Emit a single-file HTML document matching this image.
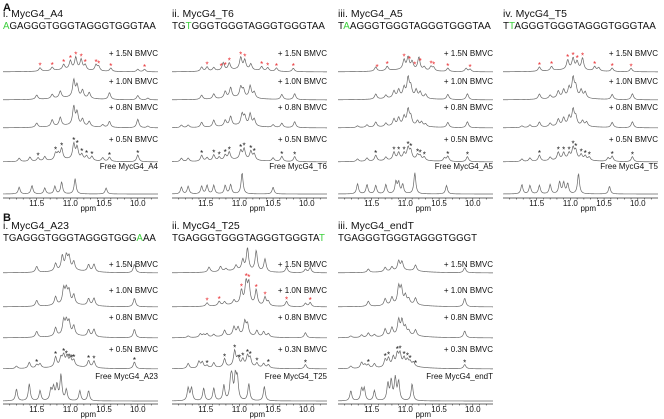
<!DOCTYPE html>
<html><head><meta charset="utf-8"><style>
html,body{margin:0;padding:0;background:#fff;}
svg{display:block;font-family:"Liberation Sans",Arial,sans-serif;}
</style></head><body>
<svg id="fig" width="664" height="419" viewBox="0 0 664 419"></svg>
<script>
// ---------- data: ppm axis ----------
const ppmMax = 12.0, ppmMin = 9.7;
const tickValues = [11.5, 11.0, 10.5, 10.0];
const tickLabels = ["11.5", "11.0", "10.5", "10.0"];

// ---------- panel A-i: MycG4_A4 ----------
const a1Free = [[11.76,8],[11.57,10],[11.38,7],[11.23,9],[11.13,14],[10.93,18],[10.47,7]];
const a1N05 = [[11.76,4],[11.6,5],[11.48,4],[11.38,5],[11.22,8],[11.18,7],[11.13,13],[10.95,18],[10.9,14],[10.83,6],[10.76,5],[10.68,5],[10.52,4],[10.42,5],[10.0,8]];
const a1N08 = [[11.5,5],[11.27,8],[11.15,10],[10.95,22],[10.9,15],[10.82,8],[10.72,6],[10.52,3],[10.42,7],[10.0,10],[9.85,2]];
const a1N10 = [[11.5,5],[11.27,5],[11.15,8],[10.95,20],[10.9,14],[10.82,9],[10.72,7],[10.42,8],[10.0,5],[9.85,2]];
const a1N15 = [[11.45,4],[11.27,4],[11.1,6],[11.0,10],[10.92,14],[10.84,12],[10.78,6],[10.62,7],[10.58,5],[10.4,4],[10.0,3],[9.9,3]];
const a1StarsBlack = [11.48,11.22,11.13,10.95,10.9,10.83,10.76,10.68,10.42,10.0];
const a1StarsRed = [11.45,11.27,11.1,11.0,10.92,10.84,10.78,10.62,10.58,10.4,9.9];

// ---------- panel A-ii: MycG4_T6 ----------
const a2Free = [[11.86,8],[11.76,9],[11.56,9],[11.48,10],[11.38,10],[11.21,10],[11.13,11],[10.96,25],[10.5,8]];
const a2N05 = [[11.86,4],[11.76,4],[11.56,7],[11.48,4],[11.38,7],[11.3,4],[11.21,6],[11.15,9],[10.98,10],[10.93,12],[10.83,10],[10.78,7],[10.5,4],[10.37,6],[10.18,6]];
const a2N08 = [[11.86,3],[11.76,3],[11.56,6],[11.38,8],[11.21,7],[11.13,11],[10.96,13],[10.92,10],[10.84,14],[10.78,8],[10.5,3],[10.37,5],[10.18,7]];
const a2N10 = [[11.56,5],[11.38,6],[11.21,8],[11.13,12],[10.98,12],[10.94,9],[10.84,14],[10.78,7],[10.37,6],[10.18,7]];
const a2N15 = [[11.56,5],[11.48,5],[11.38,4],[11.24,9],[11.15,8],[10.98,14],[10.92,11],[10.83,7],[10.67,5],[10.58,4],[10.45,4],[10.2,4]];
const a2StarsBlack = [11.56,11.38,11.3,11.21,11.15,10.98,10.93,10.83,10.78,10.37,10.18];
const a2StarsRed = [11.48,11.27,11.21,11.15,10.98,10.92,10.67,10.58,10.45,10.2];

// ---------- panel A-iii: MycG4_A5 ----------
const a3Free = [[11.71,12],[11.57,11],[11.44,10],[11.29,11],[11.14,14],[11.1,13],[11.04,11],[10.86,25],[10.39,10]];
const a3N05 = [[11.71,3],[11.57,4],[11.44,7],[11.29,4],[11.17,9],[11.1,8],[11.02,7],[10.96,13],[10.92,10],[10.82,6],[10.78,5],[10.72,4],[10.42,4],[10.37,6],[10.08,6]];
const a3N08 = [[11.71,2],[11.57,3],[11.44,6],[11.29,4],[11.17,8],[11.1,9],[11.02,10],[10.96,18],[10.92,10],[10.82,6],[10.76,5],[10.7,3],[10.37,6],[10.08,7]];
const a3N10 = [[11.44,6],[11.29,4],[11.17,8],[11.1,9],[11.02,11],[10.96,22],[10.92,12],[10.84,9],[10.78,7],[10.7,5],[10.37,6],[10.08,7]];
const a3N15 = [[11.44,5],[11.27,5],[11.02,11],[10.96,14],[10.9,9],[10.8,15],[10.72,4],[10.62,5],[10.58,4],[10.37,4],[10.1,4],[10.04,3]];
const a3StarsBlack = [11.44,11.17,11.1,11.02,10.96,10.92,10.82,10.78,10.72,10.37,10.08];
const a3StarsRed = [11.42,11.27,11.02,10.94,10.86,10.78,10.62,10.58,10.37,10.04];

// ---------- panel A-iv: MycG4_T5 ----------
const a4Free = [[11.72,11],[11.6,10],[11.46,10],[11.3,11],[11.16,14],[11.1,13],[11.04,12],[10.88,24],[10.42,9]];
const a4N05 = [[11.72,3],[11.6,4],[11.46,7],[11.3,4],[11.18,9],[11.1,8],[11.02,7],[10.96,13],[10.92,10],[10.84,6],[10.78,5],[10.72,4],[10.44,4],[10.38,6],[10.08,6]];
const a4N08 = [[11.72,2],[11.6,3],[11.46,6],[11.3,4],[11.18,8],[11.1,9],[11.02,10],[10.96,18],[10.92,10],[10.82,6],[10.76,5],[10.38,6],[10.08,7]];
const a4N10 = [[11.46,6],[11.3,4],[11.18,8],[11.1,9],[11.02,11],[10.96,22],[10.92,12],[10.84,9],[10.78,7],[10.38,6],[10.08,7]];
const a4N15 = [[11.46,5],[11.28,5],[11.04,11],[10.96,13],[10.9,9],[10.82,14],[10.64,5],[10.58,4],[10.38,4],[10.1,4]];
const a4StarsBlack = [11.46,11.18,11.1,11.02,10.96,10.92,10.84,10.78,10.72,10.38,10.08];
const a4StarsRed = [11.46,11.28,11.04,10.96,10.9,10.82,10.64,10.38,10.1];

// ---------- panel B-i: MycG4_A23 ----------
const b1Free = [[11.8,14],[11.61,20],[11.45,12],[11.29,13],[11.25,15],[11.2,18],[11.14,30],[11.06,13],[10.86,12],[10.73,12]];
const b1N05 = [[11.8,3],[11.61,7],[11.5,4],[11.45,5],[11.22,12],[11.14,10],[11.1,12],[11.05,11],[11.0,9],[10.95,7],[10.73,8],[10.65,8],[10.05,8]];
const b1N08 = [[11.5,7],[11.22,10],[11.1,17],[11.06,15],[11.02,15],[10.95,11],[10.73,8],[10.65,9],[10.05,10]];
const b1N10 = [[11.5,7],[11.22,10],[11.1,18],[11.06,16],[11.02,15],[10.95,11],[10.73,8],[10.65,9],[10.05,10]];
const b1N15 = [[11.5,7],[11.22,9],[11.12,17],[11.06,16],[11.02,15],[10.95,10],[10.73,8],[10.65,9],[10.05,10]];
const b1StarsBlack = [11.5,11.22,11.1,11.06,11.02,10.98,10.95,10.73,10.65,10.05];
const b1StarsRed = [];

// ---------- panel B-ii: MycG4_T25 ----------
const b2Free = [[11.76,15],[11.71,15],[11.53,15],[11.38,15],[11.23,18],[11.13,20],[11.11,22],[11.06,27],[11.03,25],[10.86,20],[10.63,17]];
const b2N03 = [[11.76,6],[11.6,8],[11.55,7],[11.48,3],[11.38,6],[11.22,10],[11.07,18],[11.02,10],[10.95,8],[10.88,12],[10.84,10],[10.74,5],[10.64,5],[10.57,4],[10.02,5]];
const b2N08 = [[11.76,2],[11.58,4],[11.53,3],[11.48,4],[11.38,3],[11.22,7],[11.08,10],[11.02,9],[10.92,16],[10.88,13],[10.74,7],[10.64,6],[10.57,4],[10.02,6]];
const b2N10 = [[11.48,4],[11.3,5],[11.22,4],[11.08,5],[10.97,16],[10.9,25],[10.86,24],[10.75,18],[10.62,10],[10.57,5],[10.3,6],[10.02,4],[9.95,5]];
const b2N15 = [[11.45,6],[11.28,6],[11.2,3],[11.05,6],[10.95,12],[10.88,26],[10.75,24],[10.62,15],[10.3,6],[10.02,4],[9.95,6]];
const b2StarsBlack = [11.48,11.22,11.07,11.0,10.95,10.88,10.84,10.74,10.57,10.02];
const b2StarsRed = [11.48,11.3,10.97,10.9,10.86,10.75,10.62,10.3,9.95];

// ---------- panel B-iii: MycG4_endT ----------
const b3Free = [[11.81,12],[11.65,14],[11.61,14],[11.46,12],[11.26,20],[11.21,23],[11.15,26],[11.1,22],[10.9,20]];
const b3N03 = [[11.81,3],[11.65,7],[11.6,4],[11.55,4],[11.46,5],[11.3,9],[11.25,10],[11.18,11],[11.12,14],[11.08,14],[11.02,9],[10.97,7],[10.93,5],[10.88,5],[10.12,5]];
const b3N08 = [[11.81,2],[11.65,3],[11.55,5],[11.46,3],[11.3,9],[11.2,10],[11.1,18],[11.05,17],[11.0,9],[10.95,5],[10.85,7],[10.12,8]];
const b3N10 = [[11.55,6],[11.3,8],[11.2,9],[11.1,20],[11.06,18],[11.0,10],[10.95,6],[10.85,8],[10.12,10]];
const b3N15 = [[11.55,4],[11.3,5],[11.2,5],[11.1,11],[11.05,10],[10.85,7],[10.12,6]];
const b3StarsBlack = [11.55,11.3,11.25,11.12,11.08,11.02,10.97,10.93,10.85,10.12];
const b3StarsRed = [];

// ---------- layout (not data) ----------
const rowA = {titleY:17, seqY:29, base:[72,100,128,162,194], labY:[56,84,110,142,169], axisY:198, tickY:206, ppmY:211};
const rowB = {titleY:229, seqY:241, base:[273,307,338,369,401], labY:[267,293,320,352,379], axisY:404, tickY:412, ppmY:417};
const panels = [
 {x:3,row:rowA,title:"i. MycG4_A4",seq:["","A","GAGGGTGGGTAGGGTGGGTAA"],labels:["+ 1.5N BMVC","+ 1.0N BMVC","+ 0.8N BMVC","+ 0.5N BMVC","Free MycG4_A4"],traces:[a1N15,a1N10,a1N08,a1N05,a1Free],starsRed:a1StarsRed,starsBlack:a1StarsBlack,redIdx:0,blackIdx:3},
 {x:172,row:rowA,title:"ii. MycG4_T6",seq:["TG","T","GGGTGGGTAGGGTGGGTAA"],labels:["+ 1.5N BMVC","+ 1.0N BMVC","+ 0.8N BMVC","+ 0.5N BMVC","Free MycG4_T6"],traces:[a2N15,a2N10,a2N08,a2N05,a2Free],starsRed:a2StarsRed,starsBlack:a2StarsBlack,redIdx:0,blackIdx:3},
 {x:338,row:rowA,title:"iii. MycG4_A5",seq:["T","A","AGGGTGGGTAGGGTGGGTAA"],labels:["+ 1.5N BMVC","+ 1.0N BMVC","+ 0.8N BMVC","+ 0.5N BMVC","Free MycG4_A5"],traces:[a3N15,a3N10,a3N08,a3N05,a3Free],starsRed:a3StarsRed,starsBlack:a3StarsBlack,redIdx:0,blackIdx:3},
 {x:503,row:rowA,title:"iv. MycG4_T5",seq:["T","T","AGGGTGGGTAGGGTGGGTAA"],labels:["+ 1.5N BMVC","+ 1.0N BMVC","+ 0.8N BMVC","+ 0.5N BMVC","Free MycG4_T5"],traces:[a4N15,a4N10,a4N08,a4N05,a4Free],starsRed:a4StarsRed,starsBlack:a4StarsBlack,redIdx:0,blackIdx:3},
 {x:3,row:rowB,title:"i. MycG4_A23",seq:["TGAGGGTGGGTAGGGTGGG","A","AA"],labels:["+ 1.5N BMVC","+ 1.0N BMVC","+ 0.8N BMVC","+ 0.5N BMVC","Free MycG4_A23"],traces:[b1N15,b1N10,b1N08,b1N05,b1Free],starsRed:b1StarsRed,starsBlack:b1StarsBlack,redIdx:0,blackIdx:3},
 {x:172,row:rowB,title:"ii. MycG4_T25",seq:["TGAGGGTGGGTAGGGTGGGTA","T",""],labels:["+ 1.5N BMVC","+ 1.0N BMVC","+ 0.8N BMVC","+ 0.3N BMVC","Free MycG4_T25"],traces:[b2N15,b2N10,b2N08,b2N03,b2Free],starsRed:b2StarsRed,starsBlack:b2StarsBlack,redIdx:1,blackIdx:3},
 {x:338,row:rowB,title:"iii. MycG4_endT",seq:["TGAGGGTGGGTAGGGTGGGT","",""],labels:["+ 1.5N BMVC","+ 1.0N BMVC","+ 0.8N BMVC","+ 0.3N BMVC","Free MycG4_endT"],traces:[b3N15,b3N10,b3N08,b3N03,b3Free],starsRed:b3StarsRed,starsBlack:b3StarsBlack,redIdx:0,blackIdx:3}
];
const W = 155;
const NS = "http://www.w3.org/2000/svg";
const svg = document.getElementById('fig');
function mk(tag, attrs, parent){const e=document.createElementNS(NS,tag);for(const k in attrs)e.setAttribute(k,attrs[k]);(parent||svg).appendChild(e);return e;}
function xScale(p, ppm){return p.x + (ppmMax-ppm)/(ppmMax-ppmMin)*W;}
function spec(peaks, ppm, free){
  const w = free?0.017:0.02; let s=0;
  for(const [c,h] of peaks){const d=(ppm-c)/w; s+=0.85*h/(1+d*d);}
  if(!free){const d=(ppm-11.0)/0.3; s+=2.5/(1+d*d);}
  return s;
}
function label(text,x,y,size,anchor,parent,name,weight){
  const t=mk('text',{x:x,y:y,'font-size':size,'text-anchor':anchor||'start',fill:'#111'},parent);
  if(weight)t.setAttribute('font-weight',weight);
  t.textContent=text;
  
  
  return t;
}
const pa=label("A",3,11,11,'start',svg,'panel-a-label','bold');
const pb=label("B",3,221,11,'start',svg,'panel-b-label','bold');

panels.forEach((p,pi)=>{
  const g=mk('g',{});
  
  
  label(p.title,p.x,p.row.titleY,10.5,'start',g,'panel-title');
  const seqLen=p.seq.join('').length;
  const st=mk('text',{x:p.x,y:p.row.seqY,'font-size':10.5,fill:'#111',textLength:(seqLen*6.95).toFixed(1),lengthAdjust:'spacingAndGlyphs'},g);
  
  
  p.seq.forEach((s,i)=>{const ts=mk('tspan',{fill:i===1?'#3ccf3c':'#111'},st);ts.textContent=s;});
  p.traces.forEach((peaks,ti)=>{
    const free = ti===4; const base=p.row.base[ti];
    let d='';
    for(let i=0;i<=260;i++){
      const ppm=ppmMax-(ppmMax-ppmMin)*i/260;
      const y=base-spec(peaks,ppm,free);
      d+=(i?'L':'M')+xScale(p,ppm).toFixed(2)+','+y.toFixed(2);
    }
    const path=mk('path',{d:d,fill:'none',stroke:'#666','stroke-width':0.7},g);
    
    
    label(p.labels[ti],p.x+W,p.row.labY[ti],8,'end',g,'trace-label');
  });
  function stars(list,idx,color){
    const peaks=p.traces[idx]; const base=p.row.base[idx];
    list.forEach(ppm=>{
      const y=base-spec(peaks,ppm,false)-2;
      const s=mk('text',{x:xScale(p,ppm),y:y+3,'font-size':8,'text-anchor':'middle',fill:color},g);
      s.textContent='*';
      
      
    });
  }
  stars(p.starsRed,p.redIdx,'#e8262a');
  stars(p.starsBlack,p.blackIdx,'#111');
  const ay=p.row.axisY;
  const ax=mk('line',{x1:p.x,x2:p.x+W,y1:ay,y2:ay,stroke:'#333','stroke-width':0.8},g);
  
  
  for(let v=11.9;v>=9.75;v-=0.1){
    const tx=xScale(p,v); const major=tickValues.some(t=>Math.abs(t-v)<0.01);
    mk('line',{x1:tx,x2:tx,y1:ay,y2:ay+(major?2.5:1.5),stroke:'#333','stroke-width':0.6},g);
  }
  tickValues.forEach((v,i)=>label(tickLabels[i],xScale(p,v),p.row.tickY,8,'middle',g,'tick-label'));
  label('ppm',xScale(p,10.75)+1,p.row.ppmY,8,'middle',g,'x-axis-title');
});
</script>
</body></html>
